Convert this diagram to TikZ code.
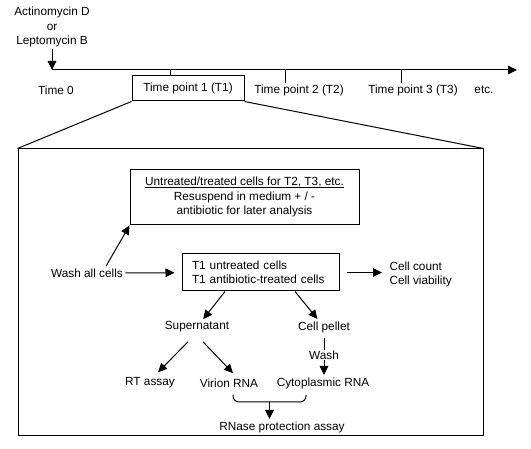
\documentclass[tikz,border=0pt]{standalone}
\usepackage{fontspec}
\setmainfont{Liberation Sans}
\usetikzlibrary{arrows.meta}

\tikzset{
	arr/.style={-{Triangle[length=9pt,width=8.5pt]}},
	every node/.style={font=\fontsize{11.8}{14.5}\selectfont, inner sep=2pt},
}

\begin{document}
\begin{tikzpicture}[x=1pt, y=-1pt, line width=1pt]

	\useasboundingbox (0,0) rectangle (531,449);

	% time line
	\coordinate (t0) at (52,70);
	\coordinate (tend) at (517,70);
	\draw[arr] (t0) -- (tend);
	\node[align=center] (drug) at (52,27) {Actinomycin D\\or\\Leptomycin B};
	\draw[arr] (drug) -- (t0);

	\node (time0) at (56,90) {Time 0};
	\node[draw, minimum width=112pt, minimum height=25pt] (t1) at (188,88.5) {Time point 1 (T1)};
	\node (t2) at (299,90) {Time point 2 (T2)};
	\node (t3) at (413,90) {Time point 3 (T3)};
	\node (etc) at (484,90) {etc.};

	\coordinate (k1) at (170,70);
	\coordinate (k2) at (285,70);
	\coordinate (k3) at (401,70);
	\draw (k1) -- (k1 |- t1.north);
	\draw (k2) -- ++(0,13);
	\draw (k3) -- ++(0,13);

	% time point 1 enlarged
	\node[draw, minimum width=465pt, minimum height=287pt] (zoom) at (250.5,292.5) {};
	\draw (t1.south west) -- (zoom.north west);
	\draw (t1.south east) -- (zoom.north east);

	\node[draw, align=center, minimum width=229pt, minimum height=55pt] (later) at (244.5,197.5) {\vphantom{U}\underline{\smash{Untreated/treated cells for T2, T3, etc.}}\\Resuspend in medium + / -\\antibiotic for later analysis};
	\node (wash) at (87,273) {Wash all cells};
	\node[draw, align=left, text width=137pt, minimum width=157pt, minimum height=37pt] (cells) at (260.5,272.5) {T1 untreated cells\\T1 antibiotic-treated cells};
	\node[align=left, anchor=west] (count) at (387,274.5) {Cell count\\Cell viability};

	\draw[arr] ([xshift=19pt]wash.north) -- (later.south west);
	\draw[arr, shorten >=7pt] (wash) -- (cells);
	\draw[arr, shorten <=7pt, shorten >=5pt] (cells.east) -- (cells.east -| count.west);

	\node (sup) at (197,327) {Supernatant};
	\node (pellet) at (324,327) {Cell pellet};
	\draw[arr] ([xshift=-35.5pt]cells.south) -- (sup);
	\draw[arr] ([xshift=34.5pt]cells.south) -- (pellet);

	\node (rt) at (150,383) {RT assay};
	\node (virion) at (229,383) {Virion RNA};
	\node (cyto) at (323,383) {Cytoplasmic RNA};
	\draw[arr] ([xshift=-9pt,yshift=-7pt]sup.south) -- ([xshift=8pt,yshift=3pt]rt.north);
	\draw[arr] ([xshift=6pt,yshift=-7pt]sup.south) -- ([xshift=4pt,yshift=3pt]virion.north);
	\draw[arr, shorten <=3pt] (pellet) -- node[fill=white, inner sep=1pt] {Wash} (pellet |- cyto.north);

	% bracket
	\coordinate (bl) at (233,395);
	\coordinate (br) at (306,395);
	\coordinate (bm) at (269.5,402);
	\draw[rounded corners=6pt] (bl) -- (bl |- bm) -- (br |- bm) -- (br);
	\node (rnase) at (282,427) {RNase protection assay};
	\draw[arr] (bm) -- (bm |- rnase.north);

\end{tikzpicture}
\end{document}
